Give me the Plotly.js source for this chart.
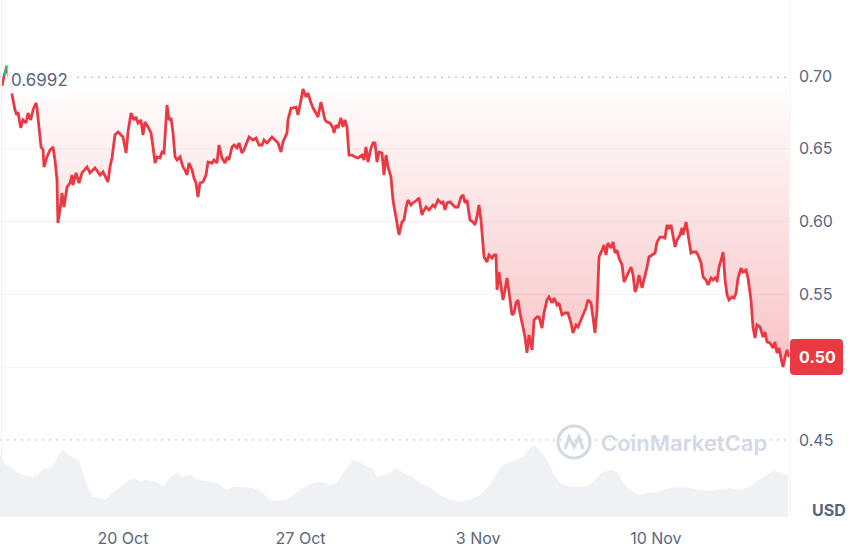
<!DOCTYPE html>
<html>
<head>
<meta charset="utf-8">
<script src="https://cdn.plot.ly/plotly-3.0.1.min.js"></script>
<style>
html,body{margin:0;padding:0;background:#fff;}
#chart{width:860px;height:548px;}
</style>
</head>
<body>
<div id="chart"></div>
<script>
// ---- data ----
// time origin: 15 Oct 00:00; hours since that origin
const START = Date.UTC(2022, 9, 15);

const priceHours = [
5.7,7.6,10.4,13.3,15.8,18.0,19.6,20.8,23.4,25.5,
28.4,30.3,32.8,35.0,37.8,38.8,40.7,42.6,44.5,45.4,
48.2,51.1,53.9,55.8,57.7,58.6,61.5,62.4,64.3,67.2,
70.0,71.9,72.8,75.7,78.5,81.3,86.1,88.9,93.6,98.4,
101.2,104.0,105.9,107.8,109.7,112.5,115.4,120.1,123.0,124.8,
127.7,130.5,132.4,134.3,137.1,139.0,140.9,143.8,146.6,148.5,
150.4,152.3,155.1,157.0,158.9,160.8,161.7,163.6,165.5,167.4,
169.3,171.2,174.0,176.8,178.7,180.6,182.5,185.4,187.2,189.1,
191.0,192.9,195.8,198.6,200.5,204.3,206.2,209.0,210.9,213.7,
216.6,218.5,220.3,223.2,225.1,227.9,229.8,232.6,234.5,237.4,
239.3,243.0,245.9,248.7,251.6,253.4,256.3,261.0,263.8,266.7,
269.5,271.4,275.2,276.1,279.0,280.9,283.7,285.6,288.4,290.3,
293.2,295.0,297.9,299.8,302.6,304.5,307.3,309.2,311.1,313.0,
315.8,318.7,319.6,321.5,323.4,326.2,328.1,330.0,331.9,333.8,
336.7,339.5,342.3,346.1,348.0,349.9,351.8,354.6,356.5,358.4,
360.3,362.2,365.0,366.9,368.8,370.7,373.5,375.4,377.3,379.2,
381.1,383.9,385.8,387.7,389.6,392.4,394.3,398.1,400.0,402.8,
403.8,406.6,409.5,413.2,415.1,418.0,420.8,422.7,424.6,426.5,
429.3,432.1,434.0,436.9,439.7,441.6,443.5,445.4,448.2,451.1,
452.9,454.8,456.7,458.6,461.5,464.3,466.2,469.0,470.9,472.8,
473.8,475.6,477.5,479.4,481.3,483.2,485.1,487.9,489.8,491.7,
493.6,495.5,498.3,500.2,502.1,504.0,506.9,508.8,511.6,513.5,
516.3,518.2,521.0,522.9,525.8,527.7,530.5,532.4,535.2,538.1,
540.9,543.7,545.6,548.5,550.4,553.2,555.1,557.9,559.8,562.6,
564.5,566.4,568.3,570.2,573.1,575.0,576.8,578.7,581.6,583.5,
585.4,587.2,589.1,592.0,593.9,595.7,597.6,600.5,602.4,604.3,
606.1,608.0,610.9,612.8,615.6,617.5,620.3,623.2,625.1,627.9,
630.7,632.6,634.5,636.4,638.3,640.2,642.1,644.0,646.8,648.7,
649.6,652.5,654.4,657.2,659.1,661.9,663.8,666.7,668.6,671.4,
673.3,676.1,678.0,680.9,681.8,683.7,686.5,687.5,689.4,691.3,
693.1,696.0,697.9,699.8,701.7,704.5,706.4,709.2,711.1,713.9,
715.8,717.7,719.6,722.5,725.3,727.2,729.1,731.9,734.8,736.6,
738.5,740.4,743.3,744.2,746.1,748.0,749.9
];

const priceValues = [
0.6931,0.7000,0.7069,0.6938,0.6849,0.6766,0.6732,0.6753,0.6643,0.6698,
0.6677,0.6746,0.6698,0.6766,0.6815,0.6780,0.6650,0.6512,0.6492,0.6375,
0.6444,0.6492,0.6512,0.6423,0.6286,0.5990,0.6128,0.6196,0.6100,0.6238,
0.6265,0.6320,0.6251,0.6334,0.6265,0.6334,0.6375,0.6334,0.6368,0.6320,
0.6341,0.6299,0.6272,0.6375,0.6437,0.6595,0.6615,0.6581,0.6471,0.6615,
0.6746,0.6698,0.6718,0.6677,0.6698,0.6595,0.6684,0.6650,0.6609,0.6512,
0.6402,0.6444,0.6437,0.6478,0.6471,0.6698,0.6801,0.6698,0.6712,0.6609,
0.6444,0.6423,0.6444,0.6375,0.6354,0.6320,0.6402,0.6354,0.6299,0.6265,
0.6169,0.6265,0.6272,0.6320,0.6409,0.6402,0.6423,0.6402,0.6526,0.6437,
0.6402,0.6444,0.6423,0.6512,0.6526,0.6505,0.6540,0.6471,0.6492,0.6547,
0.6581,0.6560,0.6574,0.6526,0.6526,0.6560,0.6540,0.6581,0.6560,0.6540,
0.6478,0.6547,0.6609,0.6698,0.6780,0.6780,0.6787,0.6732,0.6835,0.6911,
0.6856,0.6883,0.6815,0.6780,0.6746,0.6718,0.6821,0.6766,0.6698,0.6684,
0.6677,0.6643,0.6609,0.6663,0.6643,0.6712,0.6650,0.6698,0.6650,0.6457,
0.6457,0.6444,0.6437,0.6457,0.6423,0.6512,0.6409,0.6505,0.6540,0.6540,
0.6409,0.6478,0.6471,0.6320,0.6457,0.6375,0.6306,0.6148,0.6066,0.6011,
0.5908,0.5997,0.6011,0.6093,0.6148,0.6114,0.6128,0.6148,0.6162,0.6045,
0.6066,0.6100,0.6080,0.6114,0.6100,0.6148,0.6128,0.6135,0.6080,0.6128,
0.6135,0.6114,0.6100,0.6100,0.6169,0.6183,0.6128,0.6148,0.6011,0.5997,
0.5977,0.6032,0.6114,0.6011,0.5757,0.5723,0.5771,0.5750,0.5771,0.5771,
0.5530,0.5654,0.5551,0.5462,0.5530,0.5613,0.5517,0.5359,0.5372,0.5441,
0.5462,0.5372,0.5276,0.5207,0.5098,0.5221,0.5118,0.5324,0.5345,0.5345,
0.5269,0.5372,0.5462,0.5482,0.5441,0.5475,0.5427,0.5441,0.5359,0.5372,
0.5372,0.5304,0.5235,0.5290,0.5276,0.5324,0.5359,0.5407,0.5462,0.5441,
0.5345,0.5235,0.5393,0.5757,0.5805,0.5839,0.5771,0.5853,0.5819,0.5860,
0.5784,0.5805,0.5750,0.5702,0.5585,0.5613,0.5654,0.5688,0.5633,0.5517,
0.5551,0.5633,0.5544,0.5599,0.5688,0.5757,0.5771,0.5784,0.5860,0.5894,
0.5894,0.5887,0.5977,0.5956,0.5977,0.5908,0.5826,0.5874,0.5908,0.5956,
0.5908,0.5997,0.5922,0.5784,0.5791,0.5791,0.5771,0.5716,0.5620,0.5599,
0.5565,0.5613,0.5599,0.5620,0.5585,0.5688,0.5757,0.5791,0.5599,0.5496,
0.5462,0.5482,0.5475,0.5510,0.5613,0.5681,0.5654,0.5668,0.5613,0.5462,
0.5276,0.5201,0.5290,0.5276,0.5207,0.5242,0.5173,0.5166,0.5132,0.5173,
0.5098,0.5132,0.5029,0.5001,0.5070,0.5118,0.5070
];

const volumeHours = [
3.8,6.6,13.3,19.9,25.5,32.2,38.8,43.5,51.1,55.8,
60.5,63.4,68.1,74.7,78.5,82.3,87.0,91.7,98.4,103.1,
107.8,114.4,122.0,129.6,136.2,142.8,152.3,157.9,164.6,171.2,
176.8,183.5,190.1,199.5,209.0,218.5,224.1,233.6,243.0,252.5,
259.1,268.6,275.2,280.9,290.3,299.8,309.2,315.8,322.5,328.1,
337.6,344.2,350.8,355.6,360.3,366.0,372.6,379.2,384.9,394.3,
401.0,410.4,419.9,429.3,438.8,448.2,457.7,464.3,470.0,476.6,
486.1,493.6,497.4,500.2,505.0,509.7,516.3,522.0,526.7,533.3,
542.8,552.2,561.7,568.3,574.0,582.5,588.2,592.9,599.5,609.0,
615.6,625.1,637.4,646.8,656.3,665.7,675.2,684.6,694.1,703.5,
713.0,720.6,729.1,734.8,741.4,749.0
];

const volumeValues = [
64,55,50,45,42,40,41,47,49,54,
64,68,62,59,57,44,29,20,19,17,
22,28,34,39,36,37,35,30,40,44,
40,43,37,36,34,27,30,30,29,24,
17,16,17,22,29,34,35,32,34,44,
57,55,50,49,40,42,44,49,44,40,
34,30,22,17,15,17,22,29,37,50,
55,57,60,62,69,72,64,55,44,34,
30,30,32,40,45,47,44,34,27,22,
24,25,29,30,29,27,26,27,29,27,
30,37,42,47,44,42
];

const basePrice = 0.6992;
const tickDates = ['2022-10-20', '2022-10-27', '2022-11-03', '2022-11-10'];
const tickLabels = ['20 Oct', '27 Oct', '3 Nov', '10 Nov'];
const priceTicks = [0.45, 0.50, 0.55, 0.60, 0.65, 0.70];

// ---- build ----
const toTime = h => START + h * 3600000;
const px = priceHours.map(toTime);
const vx = volumeHours.map(toTime);
const lastPrice = priceValues[priceValues.length - 1];
const Y_RANGE = [0.3971, 0.7522];

const RED = '#ea3943', GREEN = '#16c784', TXT = '#58667e', WM = '#d3d9e5';

// green segment = points at/above the base price
const gx = [], gy = [];
priceValues.forEach((v, i) => { if (v >= basePrice) { gx.push(px[i]); gy.push(v); } });

// the tick label hidden by the current-price badge is not shown
const shownTicks = priceTicks.filter(v => Math.abs(v - lastPrice) > 0.015);

const traces = [
  { x: vx, y: volumeValues, yaxis: 'y2', type: 'scatter', mode: 'lines',
    fill: 'tozeroy', fillcolor: '#eff1f5', line: { width: 0, color: '#eff1f5' }, hoverinfo: 'skip' },
  { x: [px[0], px[px.length - 1]], y: [basePrice, basePrice], type: 'scatter', mode: 'lines',
    line: { width: 0, color: 'rgba(0,0,0,0)' }, hoverinfo: 'skip' },
  { x: px, y: priceValues, type: 'scatter', mode: 'lines',
    line: { color: RED, width: 2.8 },
    fill: 'tonexty',
    fillgradient: { type: 'vertical', start: 0.50, stop: basePrice,
      colorscale: [[0, 'rgba(234,57,67,0.30)'], [1, 'rgba(234,57,67,0.0)']] },
    hoverinfo: 'skip' },
  { x: gx, y: gy, type: 'scatter', mode: 'lines', line: { color: GREEN, width: 2 }, hoverinfo: 'skip' }
];

const shapes = [];
[0.50, 0.55, 0.60, 0.65].forEach(v => shapes.push({
  type: 'line', xref: 'paper', x0: 0, x1: 1, yref: 'y', y0: v, y1: v,
  line: { color: '#eff2f5', width: 1 }, layer: 'below' }));
shapes.push({ type: 'line', xref: 'paper', x0: 0, x1: 1, yref: 'y', y0: 0.45, y1: 0.45,
  line: { color: '#b8c0cd', width: 1, dash: '2px,5px' }, layer: 'below' });
shapes.push({ type: 'line', xref: 'paper', x0: 0, x1: 1, yref: 'y', y0: basePrice, y1: basePrice,
  line: { color: '#a6b0c3', width: 1, dash: '2px,5px' }, layer: 'above' });
shapes.push({ type: 'line', xref: 'paper', x0: 1, x1: 1, yref: 'paper', y0: 0, y1: 1,
  line: { color: '#eff2f5', width: 1 } });
shapes.push({ type: 'line', xref: 'paper', x0: 0.002, x1: 0.002, yref: 'paper', y0: 0, y1: 1,
  line: { color: '#eff2f5', width: 1 } });
// rounded current-price badge
shapes.push({ type: 'path', xref: 'paper', yref: 'paper', xsizemode: 'pixel', ysizemode: 'pixel',
  xanchor: 1, yanchor: (lastPrice - Y_RANGE[0]) / (Y_RANGE[1] - Y_RANGE[0]),
  path: 'M4,-18 L49,-18 Q53,-18 53,-14 L53,14 Q53,18 49,18 L4,18 Q0,18 0,14 L0,-14 Q0,-18 4,-18 Z',
  fillcolor: RED, line: { width: 0 }, layer: 'above' });
// watermark logo
shapes.push({ type: 'circle', xref: 'paper', yref: 'paper',
  x0: 0.7063, x1: 0.7469, y0: 0.1141, y1: 0.1761, line: { color: WM, width: 3 } });
shapes.push({ type: 'path', xref: 'paper', yref: 'paper',
  path: 'M0.7152,0.1315 L0.7203,0.1547 L0.7266,0.1354 L0.7329,0.1547 L0.7380,0.1315',
  line: { color: WM, width: 3 } });

const annotations = [
  { xref: 'paper', x: 0, xanchor: 'left', xshift: 7, yref: 'y', y: basePrice, yanchor: 'middle', yshift: -3,
    text: basePrice.toFixed(4), showarrow: false, bgcolor: 'rgba(255,255,255,0.95)', borderpad: 3,
    font: { family: 'Inter, sans-serif', size: 17, color: TXT } },
  { xref: 'paper', x: 1, xanchor: 'left', xshift: 0, yref: 'y', y: lastPrice, yanchor: 'middle',
    text: (Math.floor(lastPrice * 100) / 100).toFixed(2), showarrow: false,
    width: 53, height: 36, borderpad: 0,
    font: { family: 'Inter, sans-serif', size: 16, color: '#ffffff', weight: 700 } },
  { xref: 'paper', x: 1, xanchor: 'left', xshift: 20, yref: 'paper', y: 0, yanchor: 'middle', yshift: 7,
    text: 'USD', showarrow: false,
    font: { family: 'Inter, sans-serif', size: 16, color: TXT, weight: 700 } },
  { xref: 'paper', x: 0.8652, xanchor: 'center', yref: 'paper', y: 0.1431, yanchor: 'middle',
    text: 'CoinMarketCap', showarrow: false,
    font: { family: 'Inter, sans-serif', size: 22, color: WM, weight: 600 } }
];

const layout = {
  width: 860, height: 548,
  margin: { l: 0, r: 70, t: 0, b: 31 },
  paper_bgcolor: '#ffffff', plot_bgcolor: '#ffffff',
  showlegend: false, hovermode: false,
  font: { family: 'Inter, sans-serif', size: 16, color: TXT },
  xaxis: { type: 'date', range: [toTime(3.8), toTime(750.8)],
    tickvals: tickDates, ticktext: tickLabels,
    showgrid: false, zeroline: false, showline: false, ticks: '', ticklabelstandoff: 10,
    tickfont: { family: 'Inter, sans-serif', size: 16, color: TXT } },
  yaxis: { side: 'right', range: Y_RANGE, tickvals: shownTicks, tickformat: '.2f',
    showgrid: false, zeroline: false, showline: false, ticks: '', ticklabelstandoff: 8,
    tickfont: { family: 'Inter, sans-serif', size: 16, color: TXT } },
  yaxis2: { overlaying: 'y', range: [0, 517], visible: false, fixedrange: true },
  shapes: shapes,
  annotations: annotations
};

Plotly.newPlot('chart', traces, layout, { displayModeBar: false, staticPlot: true });
</script>
</body>
</html>
